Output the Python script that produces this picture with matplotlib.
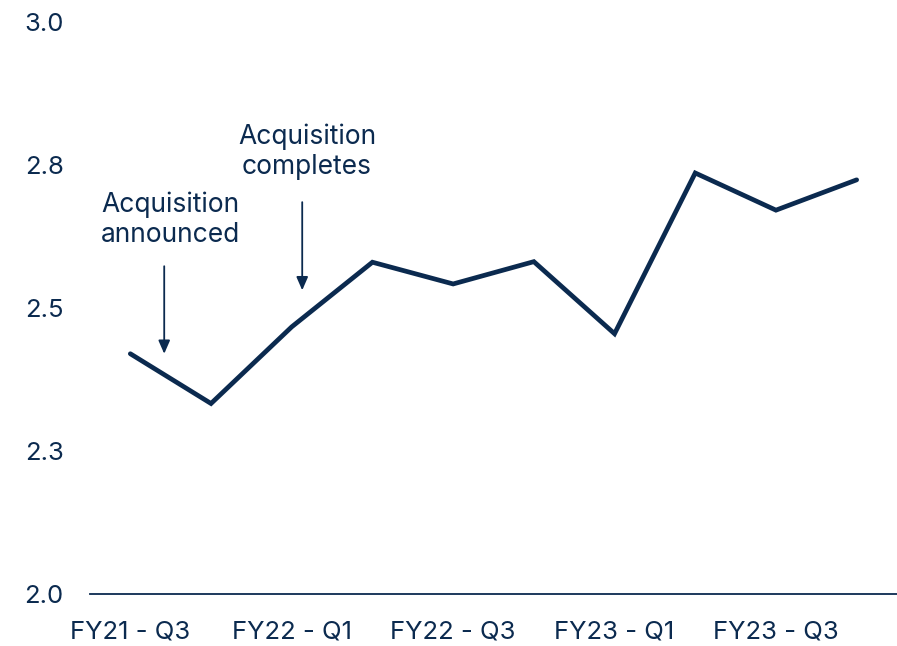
import matplotlib
matplotlib.use("Agg")
import matplotlib.pyplot as plt

plt.rcParams['font.family'] = ['Inter', 'DejaVu Sans']

quarters = ["FY21 - Q3", "FY21 - Q4", "FY22 - Q1", "FY22 - Q2", "FY22 - Q3",
            "FY22 - Q4", "FY23 - Q1", "FY23 - Q2", "FY23 - Q3", "FY23 - Q4"]
values = [2.42, 2.333, 2.467, 2.580, 2.542, 2.581, 2.455, 2.736, 2.671, 2.724]
ytick_values = [2.0, 2.25, 2.5, 2.75, 3.0]
ytick_labels = ["2.0", "2.3", "2.5", "2.8", "3.0"]
annotations = [
    ("Acquisition\nannounced", 0.42, 2.573, 2.42, 0.5, 2.655),
    ("Acquisition\ncompletes", 2.13, 2.685, 2.531, 2.19, 2.773),
]

navy = "#0b2a4f"

fig = plt.figure(figsize=(8.97, 6.46), dpi=100)
ax = fig.add_axes([0.1003, 0.0805, 0.8997, 0.8855])

x = list(range(len(quarters)))
ax.plot(x, values, color=navy, lw=3.4, solid_capstyle='round', solid_joinstyle='miter')

ax.set_xlim(-0.5, 9.5)
ax.set_ylim(2.0, 3.0)
ax.set_yticks(ytick_values)
ax.set_yticklabels(ytick_labels)
ax.set_xticks(x[::2])
ax.set_xticklabels(quarters[::2])

for s in ["top", "right", "left"]:
    ax.spines[s].set_visible(False)
ax.spines["bottom"].set_color(navy)
ax.spines["bottom"].set_linewidth(1.3)

ax.tick_params(axis='y', length=0, pad=19, labelsize=18.5, labelcolor=navy)
ax.tick_params(axis='x', length=0, pad=19, labelsize=18.5, labelcolor=navy)

for text, ax_x, y_top, y_tip, tx, ty in annotations:
    ax.annotate("", xy=(ax_x, y_tip), xytext=(ax_x, y_top),
                arrowprops=dict(arrowstyle="-|>,head_length=0.8,head_width=0.35",
                                color=navy, lw=1.3, shrinkA=0, shrinkB=0))
    ax.text(tx, ty, text, ha='center', va='center', fontsize=19,
            color=navy, linespacing=1.2)

fig.savefig("out.png", dpi=100)
